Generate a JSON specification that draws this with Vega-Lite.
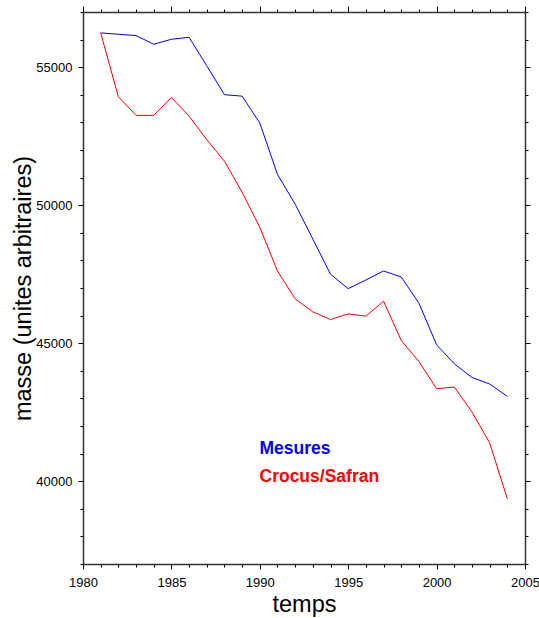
{
  "$schema": "https://vega.github.io/schema/vega-lite/v6.json",
  "width": 442,
  "height": 552,
  "autosize": {"type": "none"},
  "padding": {"left": 83, "top": 12, "right": 14, "bottom": 54},
  "background": "white",
  "config": {
    "view": {"stroke": null},
    "font": "Liberation Sans",
    "axis": {"grid": false, "labelFont": "Liberation Sans", "titleFont": "Liberation Sans", "labelColor": "#000", "titleColor": "#000", "domainColor": "#333", "domainWidth": 1.5, "tickColor": "#000", "tickWidth": 1, "labelFontSize": 13, "titleFontSize": 23.5, "titleFontWeight": "normal"}
  },
  "datasets": {
    "mb": [
      {"year": 1981, "series": "Mesures", "value": 56243},
      {"year": 1982, "series": "Mesures", "value": 56193},
      {"year": 1983, "series": "Mesures", "value": 56146},
      {"year": 1984, "series": "Mesures", "value": 55831},
      {"year": 1985, "series": "Mesures", "value": 56012},
      {"year": 1986, "series": "Mesures", "value": 56084},
      {"year": 1987, "series": "Mesures", "value": 55051},
      {"year": 1988, "series": "Mesures", "value": 54003},
      {"year": 1989, "series": "Mesures", "value": 53952},
      {"year": 1990, "series": "Mesures", "value": 52976},
      {"year": 1991, "series": "Mesures", "value": 51115},
      {"year": 1992, "series": "Mesures", "value": 50038},
      {"year": 1993, "series": "Mesures", "value": 48773},
      {"year": 1994, "series": "Mesures", "value": 47497},
      {"year": 1995, "series": "Mesures", "value": 46977},
      {"year": 1996, "series": "Mesures", "value": 47291},
      {"year": 1997, "series": "Mesures", "value": 47617},
      {"year": 1998, "series": "Mesures", "value": 47400},
      {"year": 1999, "series": "Mesures", "value": 46449},
      {"year": 2000, "series": "Mesures", "value": 44942},
      {"year": 2001, "series": "Mesures", "value": 44255},
      {"year": 2002, "series": "Mesures", "value": 43760},
      {"year": 2003, "series": "Mesures", "value": 43522},
      {"year": 2004, "series": "Mesures", "value": 43074},
      {"year": 1981, "series": "Crocus/Safran", "value": 56243},
      {"year": 1982, "series": "Crocus/Safran", "value": 53930},
      {"year": 1983, "series": "Crocus/Safran", "value": 53254},
      {"year": 1984, "series": "Crocus/Safran", "value": 53254},
      {"year": 1985, "series": "Crocus/Safran", "value": 53905},
      {"year": 1986, "series": "Crocus/Safran", "value": 53229},
      {"year": 1987, "series": "Crocus/Safran", "value": 52376},
      {"year": 1988, "series": "Crocus/Safran", "value": 51595},
      {"year": 1989, "series": "Crocus/Safran", "value": 50470},
      {"year": 1990, "series": "Crocus/Safran", "value": 49200},
      {"year": 1991, "series": "Crocus/Safran", "value": 47617},
      {"year": 1992, "series": "Crocus/Safran", "value": 46605},
      {"year": 1993, "series": "Crocus/Safran", "value": 46135},
      {"year": 1994, "series": "Crocus/Safran", "value": 45857},
      {"year": 1995, "series": "Crocus/Safran", "value": 46063},
      {"year": 1996, "series": "Crocus/Safran", "value": 45979},
      {"year": 1997, "series": "Crocus/Safran", "value": 46522},
      {"year": 1998, "series": "Crocus/Safran", "value": 45098},
      {"year": 1999, "series": "Crocus/Safran", "value": 44339},
      {"year": 2000, "series": "Crocus/Safran", "value": 43352},
      {"year": 2001, "series": "Crocus/Safran", "value": 43413},
      {"year": 2002, "series": "Crocus/Safran", "value": 42510},
      {"year": 2003, "series": "Crocus/Safran", "value": 41390},
      {"year": 2004, "series": "Crocus/Safran", "value": 39366}
    ]
  },
  "data": {"name": "mb"},
  "resolve": {"axis": {"x": "independent", "y": "independent"}},
  "layer": [
    {
      "mark": {"type": "line", "strokeWidth": 1, "clip": true},
      "encoding": {
        "x": {
          "field": "year", "type": "quantitative",
          "scale": {"domain": [1980, 2005], "nice": false, "zero": false},
          "axis": {
            "orient": "bottom", "title": "temps", "format": "d",
            "values": [1980,1981,1982,1983,1984,1985,1986,1987,1988,1989,1990,1991,1992,1993,1994,1995,1996,1997,1998,1999,2000,2001,2002,2003,2004,2005],
            "labelExpr": "datum.value % 5 == 0 ? datum.label : ''",
            "tickSize": {"condition": {"test": "datum.value % 5 == 0", "value": 5}, "value": 3},
            "labelPadding": 7, "titlePadding": 3, "labelFlush": false, "labelOverlap": false
          }
        },
        "y": {
          "field": "value", "type": "quantitative",
          "scale": {"domain": [37000, 57000], "nice": false, "zero": false},
          "axis": {
            "orient": "left", "title": "masse (unites arbitraires)", "format": "d",
            "values": [37000,38000,39000,40000,41000,42000,43000,44000,45000,46000,47000,48000,49000,50000,51000,52000,53000,54000,55000,56000,57000],
            "labelExpr": "datum.value % 5000 == 0 ? datum.label : ''",
            "tickSize": {"condition": {"test": "datum.value % 5000 == 0", "value": 5}, "value": 3},
            "labelPadding": 6, "titlePadding": 0, "labelFlush": false, "labelOverlap": false
          }
        },
        "color": {
          "field": "series", "type": "nominal",
          "scale": {"domain": ["Mesures", "Crocus/Safran"], "range": ["#0000ff", "#ff0000"]},
          "legend": {
            "orient": "none", "legendX": 159, "legendY": 428, "title": null, "padding": 0,
            "symbolSize": 0, "symbolStrokeWidth": 0, "symbolOpacity": 0, "labelOffset": 0,
            "labelFont": "Liberation Sans", "labelFontSize": 17.5, "labelFontWeight": "bold",
            "rowPadding": 9, "labelLimit": 300,
            "encode": {"labels": {"update": {"fill": {"scale": "color", "field": "value"}}}}
          }
        }
      }
    },
    {
      "mark": {"type": "line", "strokeWidth": 1, "opacity": 0},
      "encoding": {
        "x": {
          "field": "year", "type": "quantitative",
          "axis": {
            "orient": "top", "title": null, "labels": false,
            "values": [1980,1981,1982,1983,1984,1985,1986,1987,1988,1989,1990,1991,1992,1993,1994,1995,1996,1997,1998,1999,2000,2001,2002,2003,2004,2005],
            "tickSize": {"condition": {"test": "datum.value % 5 == 0", "value": 6}, "value": 3}
          }
        },
        "y": {
          "field": "value", "type": "quantitative",
          "axis": {
            "orient": "right", "title": null, "labels": false,
            "values": [37000,38000,39000,40000,41000,42000,43000,44000,45000,46000,47000,48000,49000,50000,51000,52000,53000,54000,55000,56000,57000],
            "tickSize": {"condition": {"test": "datum.value % 5000 == 0", "value": 5}, "value": 3}
          }
        },
        "detail": {"field": "series", "type": "nominal"}
      }
    }
  ]
}
